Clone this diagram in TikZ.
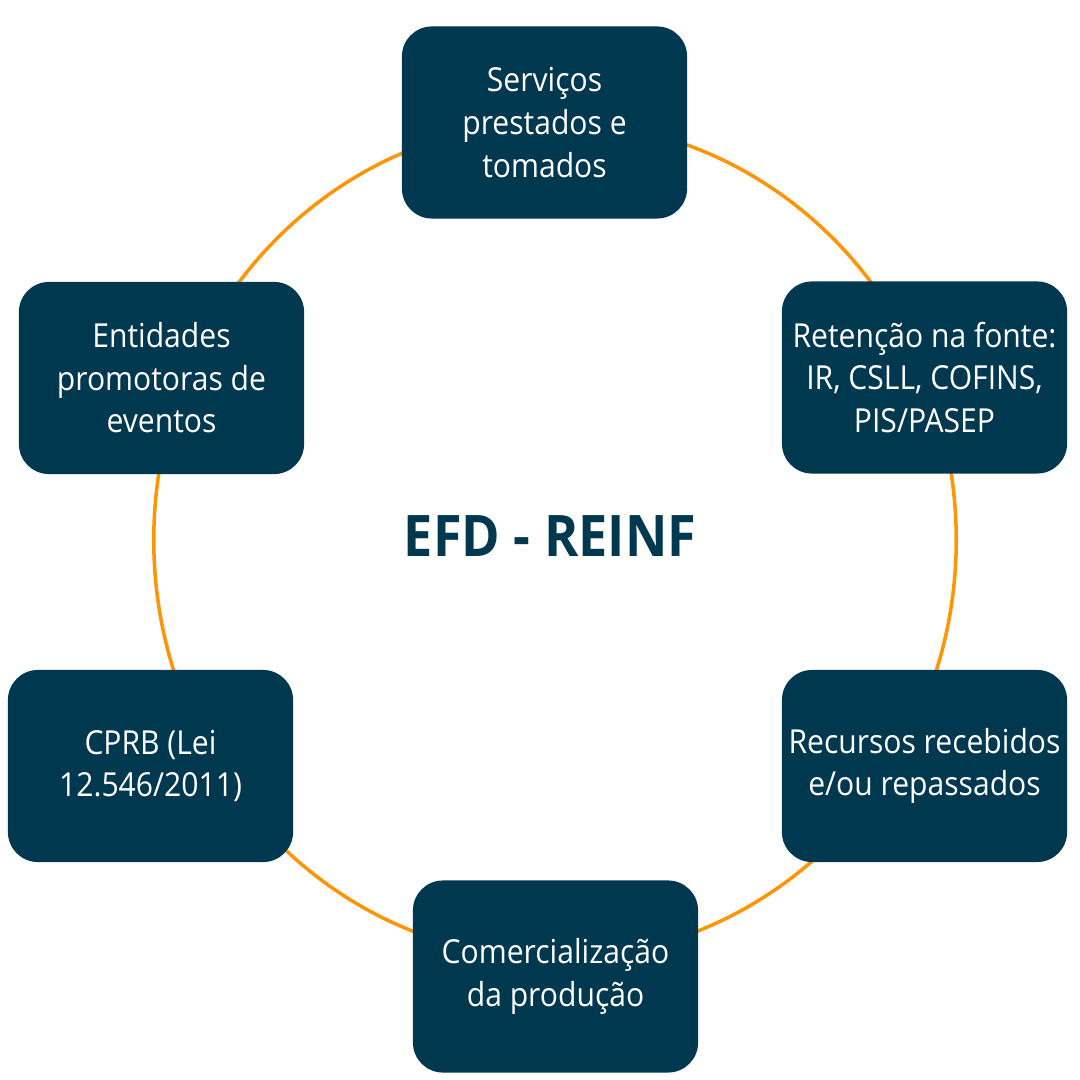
\documentclass[tikz,border=0pt]{standalone}
\usepackage{fontspec}
\setmainfont[FakeStretch=0.91]{Open Sans}
\definecolor{navy}{HTML}{00384F}
\definecolor{ring}{HTML}{FF9505}
\begin{document}
\begin{tikzpicture}[x=0.01cm,y=-0.01cm,
  box/.style={fill=navy, draw=none, rounded corners=0.3cm, minimum width=2.85cm, minimum height=1.92cm,
    inner sep=0pt, text=white, align=center, font=\fontsize{9.4}{12.1}\selectfont},
  title/.style={text=navy, font=\fontsize{16.3}{18}\selectfont\bfseries, inner sep=0pt}]
\useasboundingbox (0,0) rectangle (1080,1080);
\draw[ring, line width=1pt] (555,540) ellipse [x radius=4.01cm, y radius=4.18cm];
\node[box] (serv) at (544.5,122.5) {Serviços\\prestados e\\tomados};
\node[box] (ret) at (924.5,377.5) {Retenção na fonte:\\IR, CSLL, COFINS,\\PIS/PASEP};
\node[box] (rec) at (924.5,766) {Recursos recebidos\\e/ou repassados};
\node[box] (com) at (555.5,976.5) {Comercialização\\da produção};
\node[box] (cprb) at (150.5,766) {CPRB (Lei\\12.546/2011)};
\node[box] (ent) at (161.5,378) {Entidades\\promotoras de\\eventos};
\node[title, anchor=base] (efd) at (550,556) {EFD - REINF};
\end{tikzpicture}
\end{document}
